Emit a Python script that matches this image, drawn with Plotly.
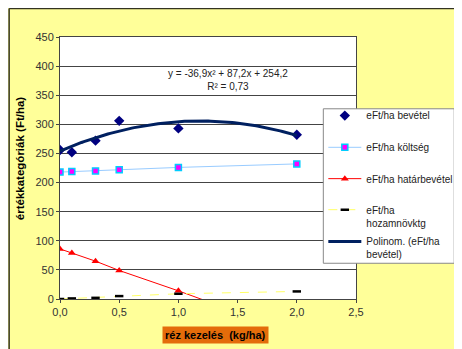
import plotly.graph_objects as go
import numpy as np

# ---- data ----
x_vals = [0.0, 0.1, 0.3, 0.5, 1.0, 2.0]
bevetel = [256, 252, 272, 306, 293, 282]
koltseg = [218, 219, 220, 222, 226, 232]
hatarbevetel = [86, 79, 65, 49, 14, -60]
hozamnovktg = [0, 1, 2, 5, 9, 13]
trend_coef = [-36.9, 87.2, 254.2]   # y = a x^2 + b x + c
trend_range = [0.0, 2.0]
x_ticks = [0.0, 0.5, 1.0, 1.5, 2.0, 2.5]
y_ticks = [0, 50, 100, 150, 200, 250, 300, 350, 400, 450]

FONT = "Liberation Sans, Arial, sans-serif"

# page has an 8px body margin: figure starts at page (8, 8)
OX, OY = 8, 8
W, H = 480, 341
L, T, B = 51.5, 29, 50.3
PW = 296.2
R = W - L - PW
PH = H - T - B


def px(page_x):
    return (page_x - OX - L) / PW


def py(page_y):
    return (H - B - (page_y - OY)) / PH


xt = np.linspace(trend_range[0], trend_range[1], 100)
yt = np.polyval(trend_coef, xt)

fig = go.Figure()
fig.add_trace(go.Scatter(
    x=x_vals, y=bevetel, mode="markers", name="eFt/ha bevétel<br> ", legend="legend",
    marker=dict(symbol="diamond", size=8, color="#000080")))
fig.add_trace(go.Scatter(
    x=x_vals, y=koltseg, mode="lines+markers", name="eFt/ha költség<br> ", legend="legend2",
    line=dict(color="#99CCFF", width=1),
    marker=dict(symbol="square", size=6, color="#FF00FF",
                line=dict(color="#00CCFF", width=1.5))))
fig.add_trace(go.Scatter(
    x=x_vals, y=hatarbevetel, mode="lines+markers", name="eFt/ha határbevétel<br> ",
    legend="legend3",
    line=dict(color="#FF0000", width=1),
    marker=dict(symbol="triangle-up", size=7, color="#FF0000")))
fig.add_trace(go.Scatter(
    x=x_vals, y=hozamnovktg, mode="lines+markers", name="eFt/ha<br>hozamnövktg",
    legend="legend4",
    line=dict(color="#FFFF66", width=1, dash="dash"),
    marker=dict(symbol="line-ew", size=6, color="#000000",
                line=dict(color="#000000", width=2.5))))
fig.add_trace(go.Scatter(
    x=xt, y=yt, mode="lines", name="Polinom. (eFt/ha<br>bevétel)", legend="legend5",
    line=dict(color="#002060", width=3)))

shapes = [
    # dark frame lines at top and left of the chart area
    dict(type="line", xref="paper", yref="paper", x0=px(8.6), x1=px(OX + W + 5),
         y0=py(8.6), y1=py(8.6), line=dict(color="#333322", width=1.5), layer="below"),
    dict(type="line", xref="paper", yref="paper", x0=px(8.6), x1=px(8.6),
         y0=py(8.6), y1=py(OY + H + 5), line=dict(color="#333322", width=1.5), layer="below"),
    # legend box
    dict(type="rect", xref="paper", yref="paper", x0=px(323), x1=px(454),
         y0=py(263), y1=py(108.7), fillcolor="white",
         line=dict(color="#888888", width=1), layer="above"),
]

annotations = [
    dict(x=1.423, y=376, xref="x", yref="y", showarrow=False, align="center",
         xanchor="center", yanchor="middle",
         text="y = -36,9x² + 87,2x + 254,2<br>R² = 0,73",
         font=dict(family=FONT, size=10, color="#222222")),
    dict(x=px(215), y=py(334.7), xref="paper", yref="paper", showarrow=False,
         xanchor="center", yanchor="middle",
         text="<b>réz kezelés  (kg/ha)</b>", bgcolor="#E46C0A", borderpad=2,
         font=dict(family=FONT, size=11, color="#000000")),
    dict(x=px(19), y=py(158.5), xref="paper", yref="paper", showarrow=False,
         xanchor="center", yanchor="middle",
         text="<b>értékkategóriák (Ft/ha)</b>", textangle=-90,
         font=dict(family=FONT, size=11.5, color="#000000")),
]

legend_text_y = [116, 147.7, 179, 210, 241.7]
OFF = 13.5
legend_common = dict(xanchor="left", yanchor="top", bgcolor="rgba(0,0,0,0)",
                     borderwidth=0, font=dict(family=FONT, size=10, color="#222222"),
                     itemwidth=33, valign="top")
legends = {}
for i, ty in enumerate(legend_text_y):
    key = "legend" if i == 0 else "legend%d" % (i + 1)
    legends[key] = dict(x=px(323), y=py(ty - OFF), **legend_common)

fig.update_layout(
    width=W, height=H,
    margin=dict(l=L, r=R, t=T, b=B, pad=0),
    paper_bgcolor="#FFFF99",
    plot_bgcolor="white",
    separators=", ",
    font=dict(family=FONT, size=11, color="#333333"),
    showlegend=True,
    shapes=shapes,
    annotations=annotations,
    **legends,
)
fig.update_xaxes(range=[0, 2.5], tickvals=x_ticks, tickformat=".1f",
                 showgrid=False, showline=True, linecolor="#444444", linewidth=1,
                 mirror=True, ticks="outside", ticklen=3, tickcolor="#444444",
                 zeroline=False, tickfont=dict(size=11, color="#333333"))
fig.update_yaxes(range=[0, 450], tickvals=y_ticks,
                 showgrid=True, gridcolor="#444444", gridwidth=1,
                 showline=True, linecolor="#444444", linewidth=1,
                 mirror=True, ticks="outside", ticklen=3, tickcolor="#444444",
                 zeroline=False, tickfont=dict(size=11, color="#333333"))

fig.write_html("out.html")
